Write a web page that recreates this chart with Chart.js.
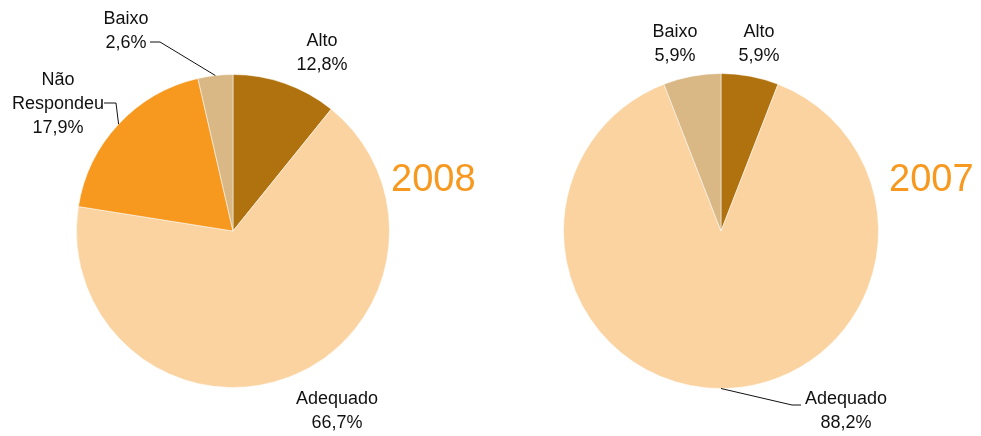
<!DOCTYPE html>
<html>
<head>
<meta charset="utf-8">
<script src="https://cdn.jsdelivr.net/npm/chart.js@4"></script>
<style>
  body { margin: 0; background: #fff; }
  #box { position: relative; width: 981px; height: 436px; }
  canvas { position: absolute; left: 0; top: 0; }
  .ano { position: absolute; font-family: "Liberation Sans", Arial, sans-serif; font-size: 38px; line-height: 1.117; color: #F7981F; }
</style>
</head>
<body>
<div id="box">
  <canvas id="pie2008" width="981" height="436"></canvas>
  <canvas id="pie2007" width="981" height="436"></canvas>
  <div class="ano" style="left:391px; top:157px;">2008</div>
  <div class="ano" style="left:889px; top:157px;">2007</div>
</div>
<script>
// dados (fatias como desenhadas; rótulos como escritos)
const categorias2008 = ['Alto', 'Adequado', 'Não\nRespondeu', 'Baixo'];
const valores2008 = [10.8, 66.7, 18.9, 3.6];
const textos2008 = ['12,8%', '66,7%', '17,9%', '2,6%'];
const cores2008 = ['#B0720F', '#FAD3A0', '#F7981F', '#D9B886'];

const categorias2007 = ['Alto', 'Adequado', 'Baixo'];
const valores2007 = [5.9, 88.2, 5.9];
const textos2007 = ['5,9%', '88,2%', '5,9%'];
const cores2007 = ['#B0720F', '#FAD3A0', '#D9B886'];

// posição dos rótulos em relação ao centro da pizza (dx, dy) e linha de chamada opcional
const rotulos2008 = [
    { dx: 89, dy: -178 },
    { dx: 104, dy: 180 },
    { dx: -175, dy: -127, linha: [-129, -128, -117, -128] },
    { dx: -107, dy: -200, linha: [-83, -189, -73, -189] }
];
const rotulos2007 = [
    { dx: 38, dy: -187 },
    { dx: 125, dy: 180, linha: [80, 174, 71, 174] },
    { dx: -46, dy: -187 }
];

const pluginRotulos = {
    id: 'rotulos',
    afterDraw(chart, args, opts) {
        const ctx = chart.ctx;
        const arcos = chart.getDatasetMeta(0).data;
        ctx.save();
        ctx.font = '18px "Liberation Sans", Arial, sans-serif';
        ctx.fillStyle = '#111';
        ctx.strokeStyle = '#111';
        ctx.lineWidth = 1;
        ctx.textAlign = 'center';
        ctx.textBaseline = 'middle';
        arcos.forEach((arco, i) => {
            const r = opts.posicoes[i];
            const cx = arco.x, cy = arco.y;
            const linhas = chart.data.labels[i].split('\n').concat([opts.textos[i]]);
            const altura = 24;
            const y0 = cy + r.dy - (linhas.length - 1) * altura / 2;
            linhas.forEach((t, k) => ctx.fillText(t, cx + r.dx, y0 + k * altura));
            if (r.linha) {
                // ponta da linha na borda da fatia, no ângulo médio
                const meio = (arco.startAngle + arco.endAngle) / 2;
                const px = cx + Math.cos(meio) * arco.outerRadius;
                const py = cy + Math.sin(meio) * arco.outerRadius;
                ctx.beginPath();
                ctx.moveTo(cx + r.linha[0], cy + r.linha[1]);
                ctx.lineTo(cx + r.linha[2], cy + r.linha[3]);
                ctx.lineTo(px, py);
                ctx.stroke();
            }
        });
        ctx.restore();
    }
};

function criaPizza(id, categorias, valores, textos, cores, rotulos, padding) {
    new Chart(document.getElementById(id), {
        type: 'pie',
        data: {
            labels: categorias,
            datasets: [{
                data: valores,
                backgroundColor: cores,
                borderColor: 'rgba(255,255,255,0.5)',
                borderWidth: 1
            }]
        },
        options: {
            responsive: false,
            animation: false,
            layout: { padding: padding },
            plugins: {
                legend: { display: false },
                tooltip: { enabled: false },
                rotulos: { posicoes: rotulos, textos: textos }
            }
        },
        plugins: [pluginRotulos]
    });
}

criaPizza('pie2008', categorias2008, valores2008, textos2008, cores2008, rotulos2008,
    { left: 76, right: 591, top: 74, bottom: 48 });
criaPizza('pie2007', categorias2007, valores2007, textos2007, cores2007, rotulos2007,
    { left: 563, right: 102, top: 73, bottom: 47 });
</script>
</body>
</html>
